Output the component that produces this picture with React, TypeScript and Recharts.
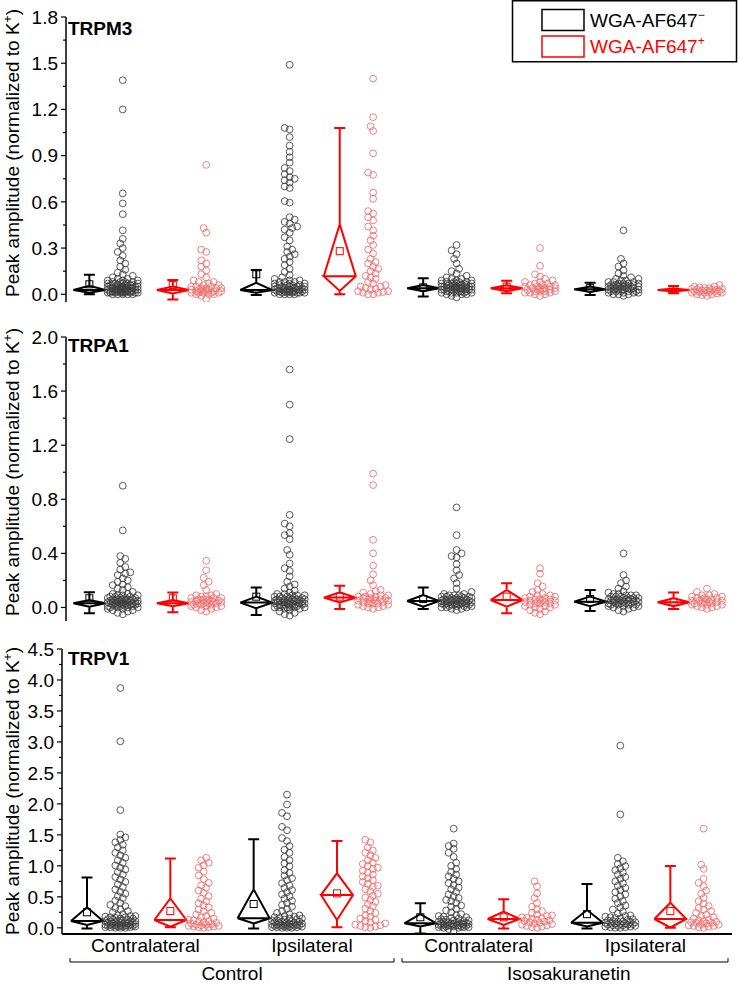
import React from 'react';
import { ComposedChart, Line, Scatter, XAxis, YAxis, ReferenceLine } from 'recharts';

const FONT = '"Liberation Sans", Arial, Helvetica, sans-serif';

// ---------- labels ----------
const categories = ['Contralateral', 'Ipsilateral', 'Contralateral', 'Ipsilateral'];
const groupNames = ['Control', 'Isosakuranetin'];
const channelNames = ['TRPM3', 'TRPA1', 'TRPV1'];
const legendNames = ['WGA-AF647', 'WGA-AF647'];
const legendSup = ['\u2212', '+'];
const yTitle = 'Peak amplitude (normalized to K';

// ---------- tick values ----------
const m3Major = [0, 0.3, 0.6, 0.9, 1.2, 1.5, 1.8];
const m3Minor = [0.15, 0.45, 0.75, 1.05, 1.35, 1.65];
const a1Major = [0, 0.4, 0.8, 1.2, 1.6, 2.0];
const a1Minor = [0.2, 0.6, 1.0, 1.4, 1.8];
const v1Major = [0, 0.5, 1.0, 1.5, 2.0, 2.5, 3.0, 3.5, 4.0, 4.5];
const v1Minor = [0.25, 0.75, 1.25, 1.75, 2.25, 2.75, 3.25, 3.75, 4.25];

// ---------- box statistics: [lower whisker, Q1, median, Q3, upper whisker, mean] ----------
// order of groups: Control-Contra, Control-Ipsi, Iso-Contra, Iso-Ipsi
const m3BoxNeg = [
  [0.0, 0.01, 0.028, 0.055, 0.127, 0.065],
  [-0.005, 0.01, 0.028, 0.075, 0.158, 0.13],
  [-0.015, 0.02, 0.039, 0.06, 0.104, 0.045],
  [-0.005, 0.015, 0.032, 0.05, 0.075, 0.04],
];
const m3BoxPos = [
  [-0.033, 0.006, 0.028, 0.05, 0.093, 0.06],
  [0.0, 0.022, 0.117, 0.455, 1.08, 0.28],
  [0.006, 0.02, 0.039, 0.058, 0.088, 0.05],
  [0.006, 0.018, 0.028, 0.038, 0.054, 0.03],
];
const a1BoxNeg = [
  [-0.043, 0.006, 0.031, 0.055, 0.112, 0.068],
  [-0.055, -0.006, 0.036, 0.08, 0.147, 0.08],
  [-0.011, 0.006, 0.048, 0.092, 0.147, 0.063],
  [-0.026, 0.01, 0.043, 0.08, 0.129, 0.063],
];
const a1BoxPos = [
  [-0.036, 0.01, 0.031, 0.055, 0.11, 0.068],
  [-0.011, 0.038, 0.073, 0.112, 0.161, 0.08],
  [-0.043, 0.006, 0.055, 0.13, 0.179, 0.08],
  [-0.011, 0.01, 0.038, 0.068, 0.11, 0.043],
];
const v1BoxNeg = [
  [-0.01, 0.045, 0.11, 0.33, 0.81, 0.25],
  [-0.01, 0.07, 0.153, 0.62, 1.43, 0.384],
  [-0.09, 0.02, 0.072, 0.22, 0.395, 0.17],
  [-0.01, 0.02, 0.083, 0.287, 0.706, 0.22],
];
const v1BoxPos = [
  [0.01, 0.018, 0.126, 0.475, 1.12, 0.27],
  [0.008, 0.126, 0.53, 0.88, 1.40, 0.556],
  [-0.01, 0.045, 0.142, 0.26, 0.46, 0.17],
  [0.0, 0.005, 0.142, 0.405, 0.997, 0.27],
];

// ---------- individual cells ----------
const m3CcNeg = [1.39, 1.2, 0.655, 0.59, 0.52, 0.415, 0.36, 0.33, 0.3, 0.275, 0.25, 0.22, 0.2, 0.18, 0.16, 0.14, 0.13, 0.12, 0.11, 0.1, 0.1, 0.09, 0.09, 0.09, 0.08, 0.08, 0.08, 0.08, 0.07, 0.07, 0.07, 0.07, 0.07, 0.06, 0.06, 0.06, 0.06, 0.06, 0.06, 0.05, 0.05, 0.05, 0.05, 0.05, 0.05, 0.05, 0.04, 0.04, 0.04, 0.04, 0.04, 0.04, 0.04, 0.04, 0.03, 0.03, 0.03, 0.03, 0.03, 0.03, 0.03, 0.03, 0.03, 0.02, 0.02, 0.02, 0.02, 0.02, 0.02, 0.02, 0.02, 0.02, 0.02, 0.01, 0.01, 0.01, 0.01, 0.01, 0.01, 0.01, 0.01, 0.01, 0.0, 0.0, 0.0, 0.0, 0.0];
const m3CcPos = [0.84, 0.43, 0.4, 0.29, 0.275, 0.22, 0.2, 0.18, 0.155, 0.13, 0.11, 0.09, 0.08, 0.08, 0.07, 0.06, 0.06, 0.05, 0.05, 0.05, 0.04, 0.04, 0.04, 0.04, 0.03, 0.03, 0.03, 0.03, 0.02, 0.02, 0.02, 0.02, 0.02, 0.01, 0.01, 0.01, 0.01, 0.01, 0.0, 0.0, 0.0, -0.01, -0.03];
const m3CiNeg = [1.49, 1.08, 1.07, 1.02, 0.965, 0.925, 0.89, 0.855, 0.82, 0.8, 0.78, 0.76, 0.75, 0.74, 0.725, 0.7, 0.69, 0.605, 0.595, 0.5, 0.485, 0.47, 0.46, 0.44, 0.43, 0.42, 0.4, 0.37, 0.35, 0.31, 0.29, 0.275, 0.26, 0.245, 0.23, 0.21, 0.19, 0.165, 0.145, 0.125, 0.11, 0.1, 0.09, 0.09, 0.08, 0.08, 0.08, 0.07, 0.07, 0.07, 0.06, 0.06, 0.06, 0.06, 0.05, 0.05, 0.05, 0.05, 0.05, 0.04, 0.04, 0.04, 0.04, 0.04, 0.04, 0.03, 0.03, 0.03, 0.03, 0.03, 0.03, 0.03, 0.02, 0.02, 0.02, 0.02, 0.02, 0.02, 0.02, 0.02, 0.01, 0.01, 0.01, 0.01, 0.01, 0.01, 0.01, 0.0, 0.0, 0.0, 0.0];
const m3CiPos = [1.4, 1.15, 1.09, 1.06, 0.915, 0.79, 0.775, 0.66, 0.62, 0.54, 0.525, 0.5, 0.48, 0.44, 0.415, 0.38, 0.35, 0.32, 0.29, 0.265, 0.23, 0.21, 0.2, 0.18, 0.165, 0.15, 0.135, 0.12, 0.11, 0.1, 0.08, 0.07, 0.06, 0.05, 0.05, 0.04, 0.035, 0.03, 0.02, 0.02, 0.015, 0.01, 0.01, 0.0, 0.0];
const m3IcNeg = [0.32, 0.285, 0.26, 0.23, 0.2, 0.165, 0.15, 0.135, 0.12, 0.11, 0.1, 0.1, 0.09, 0.09, 0.09, 0.08, 0.08, 0.08, 0.08, 0.07, 0.07, 0.07, 0.07, 0.07, 0.06, 0.06, 0.06, 0.06, 0.06, 0.06, 0.05, 0.05, 0.05, 0.05, 0.05, 0.05, 0.05, 0.04, 0.04, 0.04, 0.04, 0.04, 0.04, 0.04, 0.03, 0.03, 0.03, 0.03, 0.03, 0.03, 0.03, 0.02, 0.02, 0.02, 0.02, 0.02, 0.02, 0.01, 0.01, 0.01, 0.01, 0.01, 0.0, 0.0, 0.0, -0.01, -0.02];
const m3IcPos = [0.3, 0.185, 0.13, 0.115, 0.1, 0.09, 0.08, 0.08, 0.07, 0.07, 0.06, 0.06, 0.06, 0.05, 0.05, 0.05, 0.04, 0.04, 0.04, 0.04, 0.03, 0.03, 0.03, 0.03, 0.02, 0.02, 0.02, 0.02, 0.01, 0.01, 0.01, 0.0, 0.0, -0.01];
const m3IiNeg = [0.415, 0.23, 0.2, 0.18, 0.155, 0.135, 0.12, 0.11, 0.1, 0.1, 0.09, 0.09, 0.08, 0.08, 0.08, 0.07, 0.07, 0.07, 0.07, 0.06, 0.06, 0.06, 0.06, 0.06, 0.05, 0.05, 0.05, 0.05, 0.05, 0.05, 0.04, 0.04, 0.04, 0.04, 0.04, 0.04, 0.03, 0.03, 0.03, 0.03, 0.03, 0.03, 0.02, 0.02, 0.02, 0.02, 0.02, 0.01, 0.01, 0.01, 0.01, 0.0, 0.0, 0.0, -0.01];
const m3IiPos = [0.06, 0.05, 0.05, 0.045, 0.04, 0.04, 0.035, 0.035, 0.03, 0.03, 0.03, 0.025, 0.025, 0.02, 0.02, 0.02, 0.015, 0.015, 0.01, 0.01, 0.01, 0.005, 0.0, 0.0, -0.005, -0.01];

const a1CcNeg = [0.9, 0.57, 0.38, 0.36, 0.33, 0.3, 0.28, 0.26, 0.25, 0.24, 0.215, 0.2, 0.19, 0.17, 0.165, 0.15, 0.14, 0.13, 0.115, 0.1, 0.1, 0.09, 0.09, 0.09, 0.08, 0.08, 0.08, 0.07, 0.07, 0.07, 0.07, 0.06, 0.06, 0.06, 0.06, 0.06, 0.05, 0.05, 0.05, 0.05, 0.05, 0.05, 0.04, 0.04, 0.04, 0.04, 0.04, 0.04, 0.03, 0.03, 0.03, 0.03, 0.03, 0.03, 0.02, 0.02, 0.02, 0.02, 0.02, 0.02, 0.01, 0.01, 0.01, 0.01, 0.01, 0.0, 0.0, 0.0, 0.0, -0.01, -0.01, -0.02, -0.02, -0.03, -0.04, -0.05];
const a1CcPos = [0.345, 0.275, 0.22, 0.19, 0.165, 0.13, 0.1, 0.09, 0.09, 0.08, 0.08, 0.07, 0.07, 0.07, 0.06, 0.06, 0.06, 0.05, 0.05, 0.05, 0.05, 0.04, 0.04, 0.04, 0.04, 0.03, 0.03, 0.03, 0.03, 0.02, 0.02, 0.02, 0.01, 0.01, 0.01, 0.0, 0.0, -0.01, -0.02, -0.03];
const a1CiNeg = [1.76, 1.5, 1.245, 0.685, 0.62, 0.6, 0.55, 0.535, 0.505, 0.425, 0.39, 0.325, 0.29, 0.27, 0.23, 0.19, 0.17, 0.155, 0.14, 0.125, 0.11, 0.1, 0.1, 0.09, 0.09, 0.09, 0.08, 0.08, 0.08, 0.07, 0.07, 0.07, 0.07, 0.06, 0.06, 0.06, 0.06, 0.06, 0.05, 0.05, 0.05, 0.05, 0.05, 0.04, 0.04, 0.04, 0.04, 0.04, 0.04, 0.03, 0.03, 0.03, 0.03, 0.03, 0.02, 0.02, 0.02, 0.02, 0.02, 0.01, 0.01, 0.01, 0.01, 0.0, 0.0, 0.0, 0.0, 0.0, 0.0, -0.01, -0.01, -0.02, -0.03, -0.04, -0.05, -0.06];
const a1CiPos = [0.99, 0.905, 0.5, 0.4, 0.31, 0.245, 0.2, 0.165, 0.13, 0.12, 0.11, 0.1, 0.09, 0.09, 0.08, 0.08, 0.08, 0.07, 0.07, 0.07, 0.06, 0.06, 0.06, 0.05, 0.05, 0.05, 0.04, 0.04, 0.04, 0.03, 0.03, 0.03, 0.02, 0.02, 0.01, 0.01, 0.0, 0.0, -0.01];
const a1IcNeg = [0.74, 0.535, 0.425, 0.4, 0.38, 0.37, 0.32, 0.275, 0.24, 0.215, 0.18, 0.14, 0.115, 0.1, 0.1, 0.09, 0.09, 0.09, 0.08, 0.08, 0.08, 0.08, 0.07, 0.07, 0.07, 0.07, 0.06, 0.06, 0.06, 0.06, 0.06, 0.05, 0.05, 0.05, 0.05, 0.05, 0.05, 0.04, 0.04, 0.04, 0.04, 0.04, 0.04, 0.03, 0.03, 0.03, 0.03, 0.03, 0.02, 0.02, 0.02, 0.02, 0.02, 0.01, 0.01, 0.01, 0.01, 0.0, 0.0, 0.0, -0.01, -0.01, -0.02];
const a1IcPos = [0.29, 0.25, 0.18, 0.155, 0.13, 0.115, 0.1, 0.09, 0.09, 0.08, 0.08, 0.07, 0.07, 0.06, 0.06, 0.06, 0.05, 0.05, 0.05, 0.04, 0.04, 0.04, 0.03, 0.03, 0.03, 0.02, 0.02, 0.01, 0.01, 0.0, 0.0, -0.01, -0.02, -0.03, -0.04, -0.05];
const a1IiNeg = [0.4, 0.24, 0.2, 0.18, 0.155, 0.14, 0.12, 0.11, 0.1, 0.1, 0.09, 0.09, 0.09, 0.08, 0.08, 0.08, 0.07, 0.07, 0.07, 0.07, 0.06, 0.06, 0.06, 0.06, 0.06, 0.05, 0.05, 0.05, 0.05, 0.05, 0.04, 0.04, 0.04, 0.04, 0.04, 0.03, 0.03, 0.03, 0.03, 0.03, 0.02, 0.02, 0.02, 0.02, 0.01, 0.01, 0.01, 0.0, 0.0, -0.01, -0.02, -0.03];
const a1IiPos = [0.14, 0.115, 0.1, 0.09, 0.09, 0.08, 0.08, 0.07, 0.07, 0.07, 0.06, 0.06, 0.06, 0.05, 0.05, 0.05, 0.04, 0.04, 0.04, 0.03, 0.03, 0.03, 0.02, 0.02, 0.02, 0.01, 0.01, 0.0, 0.0, -0.01];

const v1CcNeg = [3.87, 3.01, 1.9, 1.505, 1.46, 1.42, 1.38, 1.34, 1.3, 1.25, 1.21, 1.17, 1.13, 1.09, 1.05, 1.005, 0.97, 0.94, 0.9, 0.86, 0.82, 0.78, 0.74, 0.7, 0.66, 0.62, 0.58, 0.55, 0.51, 0.48, 0.44, 0.4, 0.37, 0.35, 0.32, 0.3, 0.27, 0.25, 0.22, 0.2, 0.19, 0.19, 0.18, 0.17, 0.17, 0.16, 0.15, 0.15, 0.14, 0.13, 0.13, 0.12, 0.12, 0.11, 0.11, 0.1, 0.1, 0.09, 0.09, 0.08, 0.08, 0.08, 0.07, 0.07, 0.06, 0.06, 0.06, 0.05, 0.05, 0.05, 0.04, 0.04, 0.04, 0.03, 0.03, 0.03, 0.03, 0.02, 0.02, 0.02, 0.01, 0.01, 0.01, 0.0, 0.0, 0.0];
const v1CcPos = [1.13, 1.09, 1.05, 1.01, 0.97, 0.91, 0.845, 0.785, 0.725, 0.685, 0.645, 0.6, 0.565, 0.51, 0.47, 0.43, 0.395, 0.36, 0.33, 0.295, 0.265, 0.24, 0.215, 0.19, 0.17, 0.15, 0.13, 0.12, 0.11, 0.1, 0.09, 0.08, 0.07, 0.06, 0.05, 0.05, 0.04, 0.03, 0.03, 0.02, 0.02, 0.01, 0.01, 0.0];
const v1CiNeg = [2.15, 1.99, 1.855, 1.8, 1.63, 1.575, 1.45, 1.4, 1.32, 1.26, 1.21, 1.145, 1.09, 1.04, 0.995, 0.93, 0.885, 0.845, 0.8, 0.77, 0.72, 0.68, 0.645, 0.61, 0.575, 0.54, 0.505, 0.47, 0.435, 0.4, 0.37, 0.34, 0.305, 0.27, 0.24, 0.22, 0.2, 0.19, 0.18, 0.17, 0.16, 0.15, 0.15, 0.14, 0.13, 0.12, 0.12, 0.11, 0.1, 0.1, 0.09, 0.09, 0.08, 0.08, 0.07, 0.07, 0.06, 0.06, 0.05, 0.05, 0.05, 0.04, 0.04, 0.04, 0.03, 0.03, 0.03, 0.02, 0.02, 0.02, 0.01, 0.01, 0.01, 0.0, 0.0, 0.0];
const v1CiPos = [1.42, 1.38, 1.3, 1.25, 1.21, 1.17, 1.13, 1.09, 1.05, 1.03, 1.0, 0.97, 0.95, 0.92, 0.89, 0.86, 0.83, 0.8, 0.77, 0.74, 0.71, 0.68, 0.66, 0.62, 0.59, 0.55, 0.52, 0.49, 0.45, 0.42, 0.38, 0.35, 0.31, 0.27, 0.24, 0.2, 0.18, 0.15, 0.13, 0.11, 0.09, 0.07, 0.05, 0.04, 0.03, 0.02, 0.01, 0.0];
const v1IcNeg = [1.6, 1.36, 1.32, 1.275, 1.21, 1.145, 1.05, 1.0, 0.95, 0.9, 0.86, 0.83, 0.79, 0.75, 0.72, 0.69, 0.65, 0.62, 0.58, 0.54, 0.51, 0.48, 0.45, 0.43, 0.4, 0.36, 0.34, 0.31, 0.28, 0.25, 0.22, 0.2, 0.19, 0.18, 0.17, 0.16, 0.15, 0.14, 0.13, 0.12, 0.12, 0.11, 0.1, 0.1, 0.09, 0.09, 0.08, 0.08, 0.07, 0.07, 0.07, 0.06, 0.06, 0.06, 0.05, 0.05, 0.05, 0.04, 0.04, 0.04, 0.03, 0.03, 0.03, 0.02, 0.02, 0.02, 0.01, 0.01, 0.01, 0.0, 0.0, -0.02, -0.05];
const v1IcPos = [0.75, 0.67, 0.555, 0.48, 0.4, 0.34, 0.3, 0.27, 0.24, 0.215, 0.2, 0.19, 0.17, 0.16, 0.15, 0.14, 0.13, 0.12, 0.11, 0.1, 0.09, 0.08, 0.07, 0.06, 0.05, 0.04, 0.03, 0.02, 0.01, 0.0];
const v1IiNeg = [2.94, 1.83, 1.13, 1.075, 1.03, 0.995, 0.96, 0.93, 0.89, 0.86, 0.82, 0.79, 0.75, 0.715, 0.68, 0.645, 0.61, 0.575, 0.54, 0.51, 0.47, 0.43, 0.4, 0.36, 0.33, 0.295, 0.26, 0.23, 0.2, 0.19, 0.18, 0.17, 0.16, 0.15, 0.14, 0.13, 0.12, 0.11, 0.1, 0.1, 0.09, 0.09, 0.08, 0.08, 0.07, 0.07, 0.06, 0.06, 0.05, 0.05, 0.04, 0.04, 0.03, 0.03, 0.02, 0.02, 0.01, 0.01, 0.0, 0.0];
const v1IiPos = [1.6, 1.02, 0.95, 0.79, 0.725, 0.67, 0.6, 0.55, 0.48, 0.43, 0.39, 0.35, 0.32, 0.295, 0.27, 0.24, 0.21, 0.19, 0.17, 0.15, 0.13, 0.12, 0.11, 0.1, 0.09, 0.08, 0.08, 0.07, 0.06, 0.05, 0.04, 0.03, 0.03, 0.02, 0.01, 0.0];

// ---------- layout constants ----------
const NEG_BOX = -0.35;
const NEG_PTS = -0.15;
const POS_BOX = 0.15;
const POS_PTS = 0.35;
const DIAMOND_HALF = 0.096;
const CAP_HALF = 0.033;
const X_PX = 166.8; // pixels per category unit (for swarm spreading only)
const BLACK = '#000000';
const RED = '#ff0000';
const PT_BLACK = '#3c3c3c';
const PT_RED = '#f06a6a';

const SLOTS = [0, -2.5, 2.5, -5, 5, -7.5, 7.5, -10, 10, -12.5, 12.5, -15, 15];

function swarm(values: number[], center: number, yPx: number) {
  const sorted = [...values].sort((a, b) => a - b);
  const placed: { px: number; py: number }[] = [];
  return sorted.map((v) => {
    const py = v * yPx;
    let best = 0;
    let bestD = -1;
    for (const s of SLOTS) {
      let minD = Infinity;
      for (const p of placed) {
        const dy = p.py - py;
        if (Math.abs(dy) > 8) continue;
        const d = Math.hypot(p.px - s, dy);
        if (d < minD) minD = d;
      }
      if (minD >= 5) {
        best = s;
        bestD = minD;
        break;
      }
      if (minD > bestD) {
        bestD = minD;
        best = s;
      }
    }
    placed.push({ px: best, py });
    return { x: center + best / X_PX, y: v };
  });
}

type Pt = { x: number; y: number | null };

function boxPath(stats: number[][], offset: number): Pt[] {
  const pts: Pt[] = [];
  stats.forEach((s, i) => {
    const [lo, q1, md, q3, hi] = s;
    const x0 = i + offset;
    const w = DIAMOND_HALF;
    const c = CAP_HALF;
    const seg = (arr: number[][]) => {
      arr.forEach(([x, y]) => pts.push({ x, y }));
      pts.push({ x: arr[arr.length - 1][0], y: null });
    };
    seg([[x0, q3], [x0, hi]]);
    seg([[x0 - c, hi], [x0 + c, hi]]);
    seg([[x0, lo], [x0, q1]]);
    seg([[x0 - c, lo], [x0 + c, lo]]);
    seg([[x0 - w, md], [x0, q3], [x0 + w, md], [x0, q1], [x0 - w, md], [x0 + w, md]]);
  });
  return pts;
}

function meanPts(stats: number[][], offset: number) {
  return stats.map((s, i) => ({ x: i + offset, y: s[5] }));
}

const circleShape = (color: string) => (p: any) =>
  p.cx == null ? <g /> : (
    <circle cx={p.cx} cy={p.cy} r={3.4} fill="none" stroke={color} strokeWidth={0.85} />
  );

const squareShape = (color: string) => (p: any) =>
  p.cx == null ? <g /> : (
    <rect x={p.cx - 3.5} y={p.cy - 3.5} width={7} height={7} fill="none" stroke={color} strokeWidth={1} />
  );

const renderYTick = (majors: number[]) => (p: any) => {
  const v = p.payload.value;
  const isMajor = majors.some((m) => Math.abs(m - v) < 1e-9);
  return (
    <g>
      <line x1={p.x - (isMajor ? 5 : 3)} x2={p.x} y1={p.y} y2={p.y} stroke="#000" strokeWidth={1.2} />
      {isMajor && (
        <text x={p.x - 8} y={p.y} dy="0.36em" textAnchor="end" fontSize={19} fontFamily={FONT} fill="#000">
          {v.toFixed(1)}
        </text>
      )}
    </g>
  );
};

const renderXTick = (p: any) => {
  const v = p.payload.value;
  if (Number.isInteger(v)) {
    return (
      <text x={p.x} y={p.y + 18} textAnchor="middle" fontSize={19} fontFamily={FONT} fill="#000">
        {categories[v]}
      </text>
    );
  }
  const gi = v < 1.5 ? 0 : 1;
  return (
    <text x={p.x} y={p.y + 46} textAnchor="middle" fontSize={19} fontFamily={FONT} fill="#000">
      {groupNames[gi]}
    </text>
  );
};

const xTicksBottom = [0, 0.52, 1, 2, 2.54, 3];
const bracketY = -0.552;
const bracketTipY = -0.49;
const brackets = [
  [-0.452, 1.492],
  [1.54, 3.496],
];

type PanelCfg = {
  top: number;
  height: number;
  margin: { top: number; right: number; bottom: number; left: number };
  yWidth: number;
  xDomain: [number, number];
  yDomain: [number, number];
  majors: number[];
  minors: number[];
  boxNeg: number[][];
  boxPos: number[][];
  ptsNeg: number[][];
  ptsPos: number[][];
  yPx: number;
  bottom: boolean;
};

const panels: PanelCfg[] = [
  {
    top: 0, height: 310, margin: { top: 17, right: 6, bottom: 8, left: 0 }, yWidth: 66,
    xDomain: [-0.49, 3.5], yDomain: [-0.05, 1.8], majors: m3Major, minors: m3Minor,
    boxNeg: m3BoxNeg, boxPos: m3BoxPos,
    ptsNeg: [m3CcNeg, m3CiNeg, m3IcNeg, m3IiNeg], ptsPos: [m3CcPos, m3CiPos, m3IcPos, m3IiPos],
    yPx: 285 / 1.85, bottom: false,
  },
  {
    top: 320, height: 310, margin: { top: 17, right: 6, bottom: 9, left: 0 }, yWidth: 66,
    xDomain: [-0.49, 3.5], yDomain: [-0.1, 2.0], majors: a1Major, minors: a1Minor,
    boxNeg: a1BoxNeg, boxPos: a1BoxPos,
    ptsNeg: [a1CcNeg, a1CiNeg, a1IcNeg, a1IiNeg], ptsPos: [a1CcPos, a1CiPos, a1IcPos, a1IiPos],
    yPx: 284 / 2.1, bottom: false,
  },
  {
    top: 630, height: 355, margin: { top: 19, right: 6, bottom: 0, left: 0 }, yWidth: 62,
    xDomain: [-0.5, 3.52], yDomain: [-0.1, 4.5], majors: v1Major, minors: v1Minor,
    boxNeg: v1BoxNeg, boxPos: v1BoxPos,
    ptsNeg: [v1CcNeg, v1CiNeg, v1IcNeg, v1IiNeg], ptsPos: [v1CcPos, v1CiPos, v1IcPos, v1IiPos],
    yPx: 285 / 4.6, bottom: true,
  },
];

function Panel({ cfg }: { cfg: PanelCfg }) {
  const blackBox = boxPath(cfg.boxNeg, NEG_BOX);
  const redBox = boxPath(cfg.boxPos, POS_BOX);
  const blackMean = meanPts(cfg.boxNeg, NEG_BOX);
  const redMean = meanPts(cfg.boxPos, POS_BOX);
  return (
    <div style={{ position: 'absolute', left: 0, top: cfg.top }}>
      <ComposedChart width={738} height={cfg.height} margin={cfg.margin}>
        {cfg.bottom ? (
          <XAxis
            dataKey="x" type="number" domain={cfg.xDomain} allowDataOverflow
            ticks={xTicksBottom} interval={0} tick={renderXTick}
            tickLine={false} tickSize={0} tickMargin={0} height={51}
            axisLine={{ stroke: '#000', strokeWidth: 2 }}
          />
        ) : (
          <XAxis
            dataKey="x" type="number" domain={cfg.xDomain} allowDataOverflow
            ticks={[]} tick={false} tickLine={false} height={0}
            axisLine={{ stroke: '#000', strokeWidth: 2 }}
          />
        )}
        <YAxis
          dataKey="y" type="number" domain={cfg.yDomain} allowDataOverflow
          ticks={[...cfg.majors, ...cfg.minors]} interval={0}
          tick={renderYTick(cfg.majors)} tickLine={false} tickSize={0} tickMargin={0}
          width={cfg.yWidth} axisLine={{ stroke: '#000', strokeWidth: 1.5 }}
        />
        <Line data={blackBox} dataKey="y" type="linear" stroke={BLACK} strokeWidth={2} dot={false} activeDot={false} connectNulls={false} isAnimationActive={false} legendType="none" />
        <Line data={redBox} dataKey="y" type="linear" stroke={RED} strokeWidth={2} dot={false} activeDot={false} connectNulls={false} isAnimationActive={false} legendType="none" />
        {cfg.ptsNeg.map((vals, i) => (
          <Scatter key={'n' + i} data={swarm(vals, i + NEG_PTS, cfg.yPx)} dataKey="y" shape={circleShape(PT_BLACK)} isAnimationActive={false} legendType="none" />
        ))}
        {cfg.ptsPos.map((vals, i) => (
          <Scatter key={'p' + i} data={swarm(vals, i + POS_PTS, cfg.yPx)} dataKey="y" shape={circleShape(PT_RED)} isAnimationActive={false} legendType="none" />
        ))}
        <Scatter data={blackMean} dataKey="y" shape={squareShape(BLACK)} isAnimationActive={false} legendType="none" />
        <Scatter data={redMean} dataKey="y" shape={squareShape(RED)} isAnimationActive={false} legendType="none" />
        {cfg.bottom &&
          brackets.map(([a, b], i) => (
            <React.Fragment key={'b' + i}>
              <ReferenceLine segment={[{ x: a, y: bracketY }, { x: b, y: bracketY }]} stroke="#000" strokeWidth={1} ifOverflow="visible" />
              <ReferenceLine segment={[{ x: a, y: bracketY }, { x: a, y: bracketTipY }]} stroke="#000" strokeWidth={1} ifOverflow="visible" />
              <ReferenceLine segment={[{ x: b, y: bracketY }, { x: b, y: bracketTipY }]} stroke="#000" strokeWidth={1} ifOverflow="visible" />
            </React.Fragment>
          ))}
      </ComposedChart>
    </div>
  );
}

const titleY = [35, 352, 665];
const yTitleCenter = [153, 472, 791];

export default function App() {
  return (
    <div style={{ position: 'absolute', left: 0, top: 0, width: 738, height: 985, background: '#fff', overflow: 'hidden', fontFamily: FONT }}>
      {panels.map((cfg, i) => (
        <Panel key={i} cfg={cfg} />
      ))}
      <svg width={738} height={985} style={{ position: 'absolute', left: 0, top: 0, pointerEvents: 'none' }} fontFamily={FONT}>
        {channelNames.map((n, i) => (
          <text key={n} x={68} y={titleY[i]} fontSize={19} fontWeight="bold" fill="#000">{n}</text>
        ))}
        {yTitleCenter.map((cy, i) => (
          <text key={'yt' + i} transform={`translate(18.5, ${cy}) rotate(-90)`} textAnchor="middle" fontSize={19} fill="#000">
            {yTitle}
            <tspan dy={-7} fontSize={12}>+</tspan>
            <tspan dy={7}>)</tspan>
          </text>
        ))}
        <rect x={512.5} y={0.75} width={224} height={61} fill="#fff" stroke="#000" strokeWidth={1.5} />
        <rect x={542} y={9.5} width={42} height={21} fill="none" stroke={BLACK} strokeWidth={1.5} />
        <rect x={542} y={36} width={42} height={21} fill="none" stroke={RED} strokeWidth={1.5} />
        <text x={590} y={27} fontSize={19} fill={BLACK}>
          {legendNames[0]}
          <tspan dy={-8} fontSize={12}>{legendSup[0]}</tspan>
        </text>
        <text x={590} y={53} fontSize={19} fill={RED}>
          {legendNames[1]}
          <tspan dy={-8} fontSize={12}>{legendSup[1]}</tspan>
        </text>
      </svg>
    </div>
  );
}
